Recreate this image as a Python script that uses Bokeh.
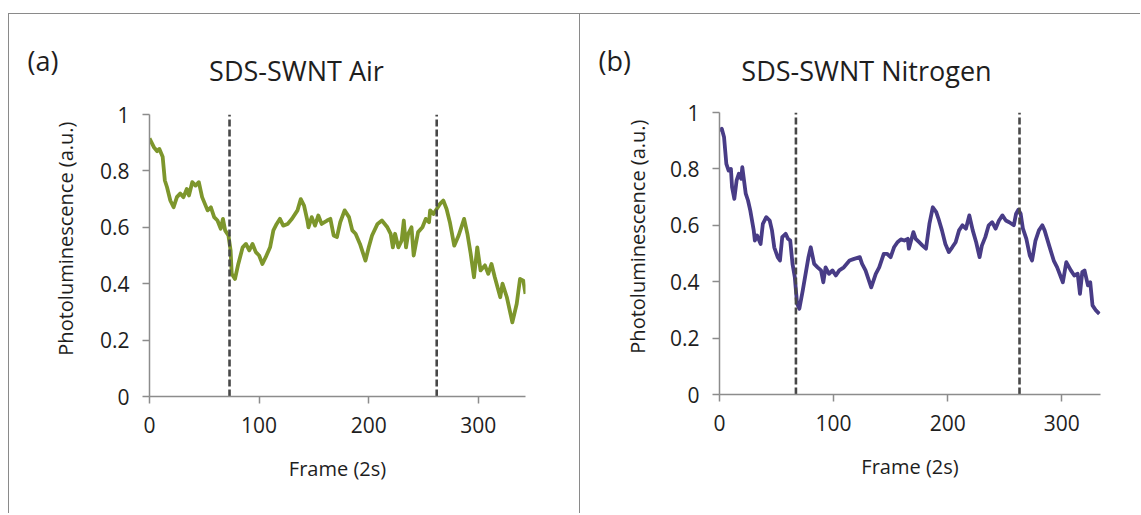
import math
from bokeh.plotting import figure
from bokeh.layouts import row, column
from bokeh.models import Range1d, FixedTicker, Label, ColumnDataSource
from bokeh.embed import file_html
from bokeh.resources import INLINE

FONT = "Open Sans"

# ---------------- data ----------------
frames_air = [0, 4, 7, 9, 12, 14, 16, 19, 22, 25, 28, 31, 34, 36, 39, 42, 45, 48, 53, 56,
              59, 62, 65, 67, 69, 72, 74, 75, 78, 81, 85, 88, 91, 94, 97, 100, 103, 106, 110, 113,
              116, 119, 122, 126, 130, 135, 138, 141, 144, 145, 148, 151, 154, 157, 162, 165, 168, 171, 174, 178,
              182, 185, 188, 192, 197, 200, 203, 208, 212, 217, 220, 222, 224, 227, 230, 232, 234, 236, 239, 241,
              245, 249, 252, 255, 256, 259, 262, 265, 268, 271, 274, 278, 282, 287, 290, 293, 296, 299, 302, 306,
              309, 312, 315, 320, 322, 326, 331, 335, 338, 341, 343]
pl_air = [0.915, 0.884, 0.87, 0.878, 0.85, 0.766, 0.742, 0.695, 0.671, 0.707, 0.72, 0.707, 0.736, 0.713, 0.76, 0.748, 0.76, 0.707, 0.66, 0.671,
          0.636, 0.624, 0.595, 0.63, 0.589, 0.571, 0.518, 0.435, 0.417, 0.47, 0.529, 0.541, 0.518, 0.541, 0.512, 0.5, 0.47, 0.494, 0.529, 0.589,
          0.612, 0.63, 0.606, 0.612, 0.63, 0.66, 0.70, 0.677, 0.624, 0.60, 0.636, 0.606, 0.642, 0.612, 0.624, 0.63, 0.571, 0.565, 0.618, 0.66,
          0.636, 0.589, 0.577, 0.541, 0.482, 0.529, 0.571, 0.612, 0.624, 0.60, 0.577, 0.529, 0.577, 0.529, 0.553, 0.624, 0.529, 0.577, 0.60, 0.50,
          0.583, 0.60, 0.63, 0.618, 0.66, 0.647, 0.665, 0.683, 0.695, 0.665, 0.618, 0.535, 0.571, 0.63, 0.577, 0.506, 0.423, 0.529, 0.447, 0.465,
          0.435, 0.47, 0.423, 0.352, 0.40, 0.352, 0.263, 0.329, 0.417, 0.411, 0.364]

frames_n2 = [0, 2, 4, 6, 8, 10, 11, 13, 15, 17, 19, 20, 23, 25, 27, 30, 31, 33, 36, 38,
             41, 44, 46, 48, 51, 53, 55, 58, 60, 62, 64, 66, 68, 70, 73, 76, 78, 80, 83, 86,
             89, 91, 93, 96, 99, 102, 105, 109, 114, 118, 123, 125, 128, 133, 137, 140, 144, 147, 150, 153,
             156, 159, 162, 165, 166, 170, 172, 175, 178, 181, 184, 187, 190, 192, 195, 198, 201, 204, 207, 210,
             213, 216, 219, 222, 225, 228, 230, 233, 236, 239, 242, 245, 248, 251, 254, 258, 260, 262, 264, 266,
             269, 272, 274, 277, 280, 283, 285, 289, 293, 296, 301, 304, 308, 311, 314, 316, 318, 320, 323, 325,
             327, 330, 333]
pl_n2 = [0.936, 0.942, 0.912, 0.818, 0.794, 0.80, 0.735, 0.694, 0.759, 0.783, 0.765, 0.806, 0.712, 0.688, 0.652, 0.582, 0.546, 0.564, 0.534, 0.605,
         0.629, 0.617, 0.582, 0.522, 0.487, 0.475, 0.558, 0.57, 0.552, 0.546, 0.463, 0.416, 0.322, 0.304, 0.369, 0.44, 0.487, 0.522, 0.463, 0.451,
         0.44, 0.398, 0.451, 0.428, 0.44, 0.422, 0.44, 0.451, 0.475, 0.481, 0.487, 0.463, 0.44, 0.38, 0.428, 0.451, 0.499, 0.499, 0.487, 0.522,
         0.54, 0.55, 0.546, 0.552, 0.517, 0.576, 0.552, 0.54, 0.528, 0.517, 0.605, 0.664, 0.647, 0.623, 0.582, 0.534, 0.505, 0.522, 0.54, 0.582,
         0.60, 0.588, 0.635, 0.582, 0.54, 0.487, 0.528, 0.558, 0.60, 0.611, 0.588, 0.617, 0.635, 0.617, 0.611, 0.60, 0.641, 0.655, 0.641, 0.588,
         0.552, 0.493, 0.475, 0.546, 0.582, 0.60, 0.582, 0.528, 0.475, 0.451, 0.398, 0.469, 0.44, 0.422, 0.428, 0.357, 0.434, 0.44, 0.387, 0.398,
         0.316, 0.298, 0.286]

events_air = [73, 262]
events_n2 = [67, 263]

x_ticks = [0, 100, 200, 300]
x_tick_labels = ["0", "100", "200", "300"]
y_ticks = [0, 0.2, 0.4, 0.6, 0.8, 1]
y_tick_labels = ["0", "0.2", "0.4", "0.6", "0.8", "1"]

titles = ["SDS-SWNT Air", "SDS-SWNT Nitrogen"]
tags = ["(a)", "(b)"]
x_title = "Frame (2s)"
y_title = "Photoluminescence (a.u.)"

GREEN = "#7d962c"
PURPLE = "#483c86"
BORDER = "1px solid #8a8a8a"
AXIS = "#8c8c8c"
TEXT = "#1e1e1e"

HEAD_H = 80
BODY_H = 419
STRIP_W = 70


def blank(width, height, **kw):
    f = figure(width=width, height=height, output_backend="svg", toolbar_location=None, tools="",
               x_axis_type=None, y_axis_type=None, **kw)
    f.outline_line_color = None
    f.grid.visible = False
    f.background_fill_color = "white"
    f.border_fill_color = "white"
    return f


def header(width, tag, title, tag_x, title_x):
    h = blank(width, HEAD_H, x_range=Range1d(0, width), y_range=Range1d(0, HEAD_H), min_border=0)
    h.add_layout(Label(x=tag_x, y=34, text=tag, text_align="left", text_baseline="alphabetic",
                       text_font=FONT, text_font_size="27px", text_color=TEXT))
    h.add_layout(Label(x=title_x, y=24, text=title, text_align="center", text_baseline="alphabetic",
                       text_font=FONT, text_font_size="27px", text_color=TEXT))
    return h


def strip(label_x, label_y, mb_top, mb_bottom):
    # narrow plot whose frame lines up with the chart frame; holds the y-axis title
    s = blank(STRIP_W, BODY_H, x_range=Range1d(0, STRIP_W), y_range=Range1d(0, 1),
              min_border_left=0, min_border_right=0,
              min_border_top=mb_top, min_border_bottom=mb_bottom)
    s.add_layout(Label(x=label_x, y=label_y, text=y_title, angle=math.pi / 2,
                       text_align="center", text_baseline="middle",
                       text_font=FONT, text_font_size="20px", text_color=TEXT))
    return s


def chart(frames, pl, events, color, xmax, width, mb):
    p = figure(width=width, height=BODY_H, output_backend="svg", toolbar_location=None, tools="",
               x_range=Range1d(0, xmax), y_range=Range1d(0, 1),
               min_border_left=mb[0], min_border_right=mb[1],
               min_border_top=mb[2], min_border_bottom=mb[3])
    p.outline_line_color = None
    p.grid.visible = False
    p.background_fill_color = "white"
    p.border_fill_color = "white"

    src = ColumnDataSource(dict(frame=frames, pl=pl))
    p.line("frame", "pl", source=src, line_color=color, line_width=3.8, line_join="round")
    p.segment(x0=events, y0=[y_ticks[0]] * len(events), x1=events, y1=[y_ticks[-1]] * len(events),
              line_color="#484848", line_width=2.6, line_dash="7 3")

    for ax in (p.xaxis, p.yaxis):
        ax.axis_line_color = AXIS
        ax.axis_line_width = 1.5
        ax.major_tick_line_color = AXIS
        ax.major_tick_line_width = 1.5
        ax.major_tick_out = 7
        ax.major_tick_in = 0
        ax.minor_tick_line_color = None
        ax.major_label_text_font = FONT
        ax.major_label_text_font_size = "21px"
        ax.major_label_text_color = TEXT
    p.xaxis.ticker = FixedTicker(ticks=x_ticks)
    p.xaxis.major_label_overrides = {t: l for t, l in zip(x_ticks, x_tick_labels)}
    p.yaxis.ticker = FixedTicker(ticks=y_ticks)
    p.yaxis.major_label_overrides = {t: l for t, l in zip(y_ticks, y_tick_labels)}
    p.xaxis.major_label_standoff = 13
    p.yaxis.major_label_standoff = 13

    p.xaxis.axis_label = x_title
    p.xaxis.axis_label_text_font = FONT
    p.xaxis.axis_label_text_font_size = "20px"
    p.xaxis.axis_label_text_font_style = "normal"
    p.xaxis.axis_label_text_color = TEXT
    p.xaxis.axis_label_standoff = 19
    return p


# panel (a): page x 8..580, content origin at (9, 14)
h1 = header(570, tags[0], titles[0], 18, 287)
s1 = strip(56, 0.56, 20, 117)
c1 = chart(frames_air, pl_air, events_air, GREEN, 343, 500, (70, 54, 20, 117))
col1 = column(h1, row(s1, c1), margin=(13, 0, 0, 8),
              styles={"border-left": BORDER, "border-top": BORDER, "border-right": BORDER})

# panel (b): page x 580..1140, content origin at (580, 14)
h2 = header(560, tags[1], titles[1], 18, 286)
s2 = strip(57, 0.56, 18, 119)
c2 = chart(frames_n2, pl_n2, events_n2, PURPLE, 334, 490, (69, 40, 18, 119))
col2 = column(h2, row(s2, c2), margin=(13, 0, 0, 0), styles={"border-top": BORDER})

layout = row(col1, col2)
open("out.html", "w").write(file_html(layout, INLINE))
